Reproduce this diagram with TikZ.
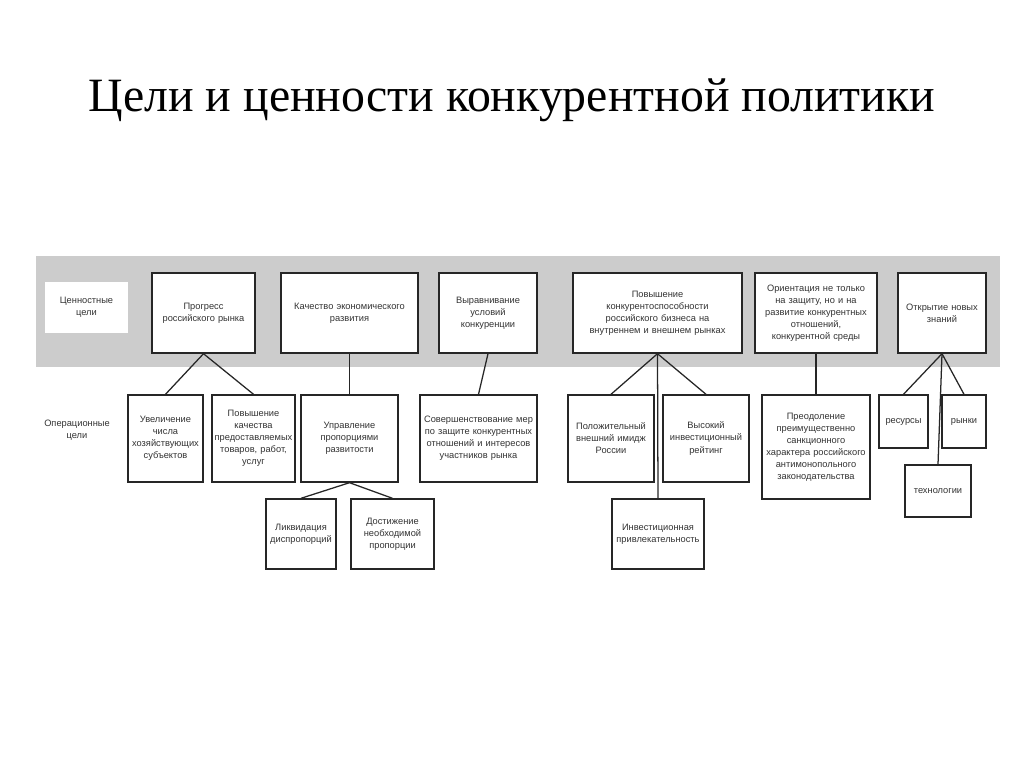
\documentclass[tikz,border=0pt]{standalone}
\usepackage{fontspec}
\setmainfont{Liberation Serif}
\newfontfamily\boxfont{Liberation Sans}
\def\pu{0.025cm}
\begin{document}
\begin{tikzpicture}[x=0.025cm,y=-0.025cm,
  goal/.style 2 args={draw=black!85, line width=1pt, fill=white, inner sep=0pt,
    minimum width=#1*\pu, minimum height=#2*\pu, text width=(#1-4)*\pu,
    align=center, font=\boxfont\fontsize{6.6}{8.6}\selectfont, text=black!80},
  link/.style={draw=black!85, line width=0.9pt}]
\useasboundingbox (0,0) rectangle (1024,767);
\node[font=\fontsize{34}{38}\selectfont] (title) at (512,100) {Цели и ценности конкурентной политики};
\fill[black!20] (36,256) rectangle (1000,367);
% value goals
\node[goal={83}{51}, draw=none] (vlabel) at (86.5,307.5) {Ценностные\\цели};
\node[goal={103}{80}] (prog) at (203.5,313) {Прогресс\\российского рынка};
\node[goal={137}{80}] (qual) at (349.5,313) {Качество экономического\\развития};
\node[goal={98}{80}] (equal) at (488,313) {Выравнивание\\условий\\конкуренции};
\node[goal={169}{80}] (comp) at (657.5,313) {Повышение\\конкурентоспособности\\российского бизнеса на\\внутреннем и внешнем рынках};
\node[goal={122}{80}] (orient) at (816,313) {Ориентация не только\\на защиту, но и на\\развитие конкурентных\\отношений,\\конкурентной среды};
\node[goal={88}{80}] (know) at (942,313) {Открытие новых\\знаний};
% operational goals
\node[font=\boxfont\fontsize{6.6}{8.6}\selectfont, text=black!80, align=center] (olabel) at (77,430) {Операционные\\цели};
\node[goal={75}{87}] (incr) at (165.5,438.5) {Увеличение\\числа\\хозяйствующих\\субъектов};
\node[goal={83}{87}] (qgoods) at (253.5,438.5) {Повышение\\качества\\предоставляемых\\товаров, работ,\\услуг};
\node[goal={97}{87}] (manage) at (349.5,438.5) {Управление\\пропорциями\\развитости};
\node[goal={117}{87}] (improve) at (478.5,438.5) {Совершенствование мер\\по защите конкурентных\\отношений и интересов\\участников рынка};
\node[goal={86}{87}] (image) at (611,438.5) {Положительный\\внешний имидж\\России};
\node[goal={86}{87}] (rating) at (706,438.5) {Высокий\\инвестиционный\\рейтинг};
\node[goal={108}{104}] (overcome) at (816,447) {Преодоление\\преимущественно\\санкционного\\характера российского\\антимонопольного\\законодательства};
\node[goal={49}{53}] (res) at (903.5,421.5) {ресурсы};
\node[goal={44}{53}] (mark) at (964,421.5) {рынки};
\node[goal={66}{52}] (tech) at (938,491) {технологии};
\node[goal={70}{70}] (liq) at (301,534) {Ликвидация\\диспропорций};
\node[goal={83}{70}] (reach) at (392.5,534) {Достижение\\необходимой\\пропорции};
\node[goal={92}{70}] (invest) at (658,534) {Инвестиционная\\привлекательность};
% links
\draw[link] (prog.south) -- (incr.north);
\draw[link] (prog.south) -- (qgoods.north);
\draw[link] (qual.south) -- (manage.north);
\draw[link] (manage.south) -- (liq.north);
\draw[link] (manage.south) -- (reach.north);
\draw[link] (equal.south) -- (improve.north);
\draw[link] (comp.south) -- (image.north);
\draw[link] (comp.south) -- (rating.north);
\draw[link] (comp.south) -- (invest.north);
\draw[link] (orient.south) -- (overcome.north);
\draw[link] (know.south) -- (res.north);
\draw[link] (know.south) -- (mark.north);
\draw[link] (know.south) -- (tech.north);
\end{tikzpicture}
\end{document}
